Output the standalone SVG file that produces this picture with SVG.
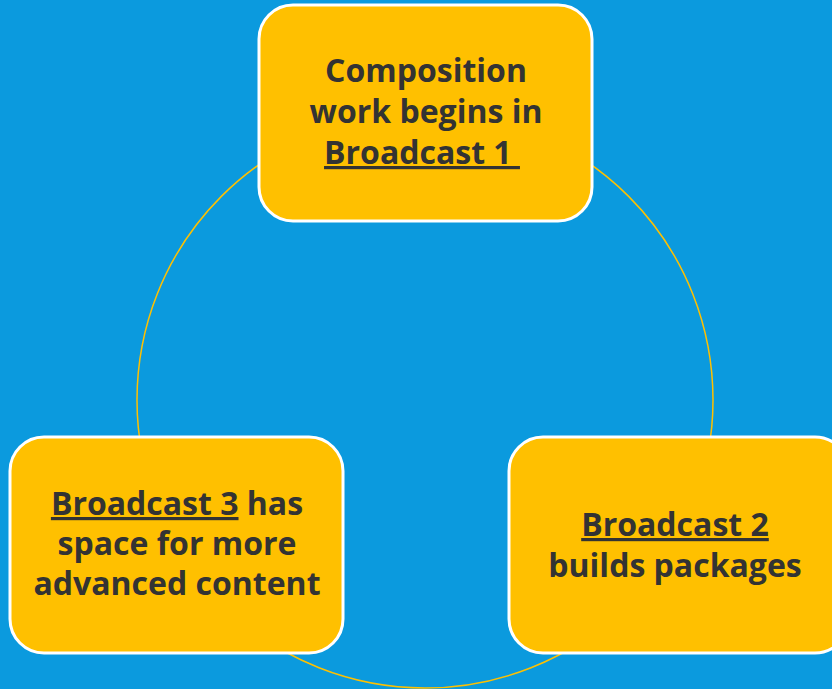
<svg xmlns="http://www.w3.org/2000/svg" width="832" height="689" viewBox="0 0 832 689">
<style>
.box{fill:#FFC000;stroke:#FFFFFF;stroke-width:3}
.t{font-family:"Open Sans",Lato,sans-serif;font-weight:bold;font-size:32px;fill:#333333;text-anchor:middle;font-variant-ligatures:none}
.u{text-decoration:underline}
</style>
<rect width="832" height="689" fill="#0B9ADE"/>
<g id="connectors">
<circle cx="425" cy="400" r="288" fill="none" stroke="#FFC000" stroke-width="1.5"/>
</g>
<g id="node-broadcast1">
<rect class="box" x="259" y="5" width="333" height="216" rx="34"/>
<text class="t" x="426" y="82">Composition</text>
<text class="t" x="426" y="123">work begins in</text>
<text class="t" x="422" y="164" xml:space="preserve"><tspan class="u">Broadcast 1 </tspan></text>
</g>
<g id="node-broadcast3">
<rect class="box" x="10" y="437" width="333" height="216" rx="34"/>
<text class="t" x="177" y="515"><tspan class="u">Broadcast 3</tspan> has</text>
<text class="t" x="177" y="555">space for more</text>
<text class="t" x="177" y="595">advanced content</text>
</g>
<g id="node-broadcast2">
<rect class="box" x="509" y="437" width="340" height="216" rx="34"/>
<text class="t" x="675" y="536"><tspan class="u">Broadcast 2</tspan></text>
<text class="t" x="675" y="577">builds packages</text>
</g>
</svg>
